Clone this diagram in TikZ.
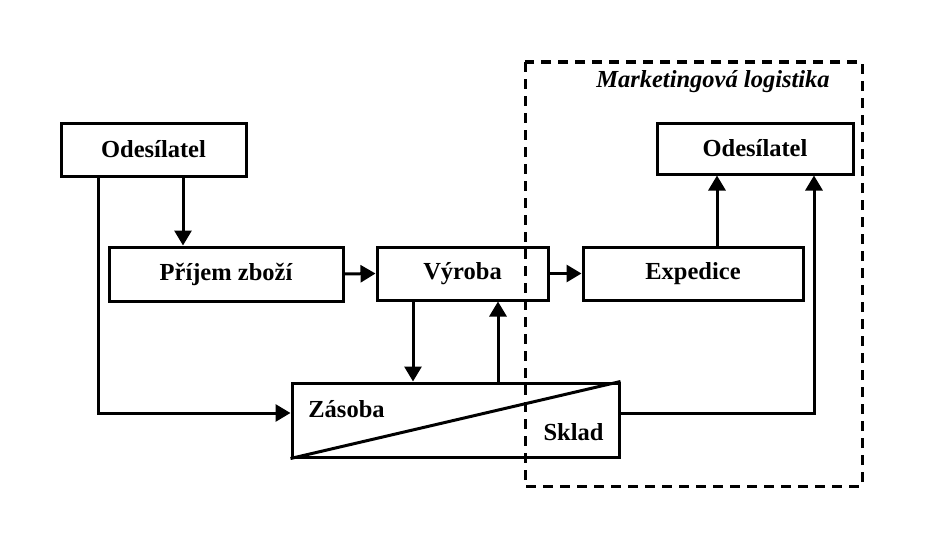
\documentclass[tikz,border=0pt]{standalone}
\usepackage{fontspec}
\setmainfont{Liberation Serif}
\usepackage{tikz}
\usetikzlibrary{arrows.meta}

\begin{document}
\begin{tikzpicture}[x=1pt, y=-1pt,
    box/.style={draw, line width=3pt, inner sep=0, font=\bfseries\fontsize{24.5}{28}\selectfont},
    lbl/.style={font=\bfseries\fontsize{24.5}{28}\selectfont, inner sep=0},
    arr/.style={line width=3pt, -{Triangle[length=15pt, width=17pt]}},
    line/.style={line width=3pt}]
    \useasboundingbox (0,0) rectangle (928,535);
    % marketing part
    \draw[line width=3pt, dash pattern=on 10pt off 7pt] (525,62) rectangle (862,486);
    \node[lbl, font=\bfseries\itshape\fontsize{24.5}{28}\selectfont] (ml) at (713,82) {Marketingová logistika};
    % boxes
    \node[box, minimum width=185pt, minimum height=53pt] (ods1) at (153.5,149.5) {Odesílatel};
    \node[box, minimum width=196pt, minimum height=51pt] (ods2) at (755,148.5) {Odesílatel};
    \node[box, minimum width=234pt, minimum height=54pt] (prijem) at (226,274) {Příjem zboží};
    \node[box, minimum width=171pt, minimum height=53pt] (vyroba) at (462.5,273.5) {Výroba};
    \node[box, minimum width=220pt, minimum height=53pt] (expedice) at (693,273.5) {Expedice};
    \node[box, minimum width=327pt, minimum height=74pt] (sklad) at (455.5,420) {};
    \draw[line] (sklad.south west) -- (sklad.north east);
    \node[lbl] (zas) at (346.5,409) {Zásoba};
    \node[lbl] (skl) at (573.5,432) {Sklad};
    % columns for the vertical arrows
    \coordinate (c1) at (98,0);
    \coordinate (c2) at (183,0);
    \coordinate (c3) at (413,0);
    \coordinate (c4) at (498,0);
    \coordinate (c5) at (717,0);
    \coordinate (c6) at (814,0);
    % flows
    \draw[arr] (ods1.south -| c2) -- (prijem.north -| c2);
    \draw[arr] (ods1.south -| c1) |- ([yshift=7pt]sklad.west);
    \draw[arr] (prijem.east) -- (vyroba.west);
    \draw[arr] (vyroba.east) -- (expedice.west);
    \draw[arr] (vyroba.south -| c3) -- (sklad.north -| c3);
    \draw[arr] (sklad.north -| c4) -- (vyroba.south -| c4);
    \draw[arr] (expedice.north -| c5) -- (ods2.south -| c5);
    \draw[arr] ([yshift=7pt]sklad.east) -| (ods2.south -| c6);
  \end{tikzpicture}
\end{document}
